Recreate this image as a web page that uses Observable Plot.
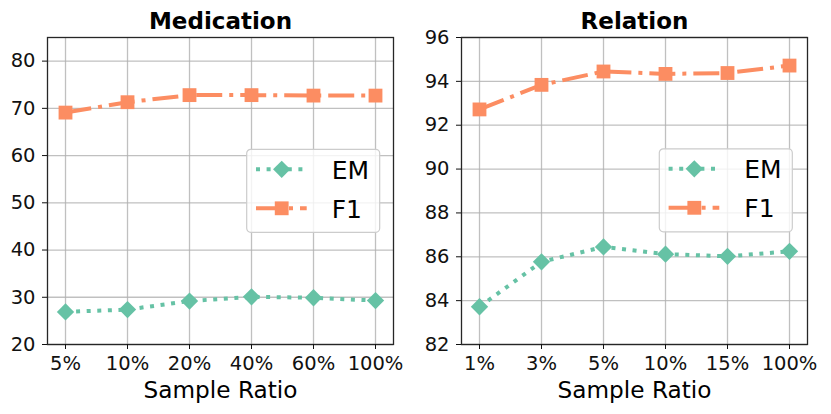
<!DOCTYPE html>
<html><head><meta charset="utf-8">
<script src="https://cdn.jsdelivr.net/npm/d3@7"></script>
<script src="https://cdn.jsdelivr.net/npm/@observablehq/plot@0.6"></script>
<style>
body{margin:0;background:#fff;font-family:"DejaVu Sans",sans-serif;}
#wrap{position:relative;width:831px;height:414px;overflow:hidden;}
.panel{position:absolute;top:0;}
#legend{position:absolute;left:0;top:0;pointer-events:none;}
</style></head><body><div id="wrap"></div>
<script>
// ---- data ----
const medRatios = ["5%","10%","20%","40%","60%","100%"];
const medEM = [26.9, 27.4, 29.2, 30.1, 29.9, 29.3];
const medF1 = [69.1, 71.3, 72.8, 72.8, 72.7, 72.7];
const medYTicks = [20, 30, 40, 50, 60, 70, 80];

const relRatios = ["1%","3%","5%","10%","15%","100%"];
const relEM = [83.72, 85.77, 86.45, 86.12, 86.02, 86.25];
const relF1 = [92.72, 93.84, 94.45, 94.34, 94.38, 94.72];
const relYTicks = [82, 84, 86, 88, 90, 92, 94, 96];

const seriesNames = ["EM", "F1"];
const titles = ["Medication", "Relation"];
const xLabel = "Sample Ratio";

// ---- styles ----
const colors = {EM: "#66c2a5", F1: "#fc8d62"};
const dashes = {EM: "4,6.6", F1: "26,7,4,7"};
const symbols = {EM: "diamond2", F1: "square"};
const radii = {EM: 7.8, F1: 7.8};
const FONT = "DejaVu Sans";

const wrap = document.getElementById("wrap");

function panel({title, ratios, em, f1, yDomain, yTicks, left, width, marginLeft, marginRight}) {
  const rows = ratios.flatMap((r, i) => [
    {ratio: r, metric: "EM", value: em[i]},
    {ratio: r, metric: "F1", value: f1[i]}
  ]);
  const marks = [
    Plot.gridX({stroke: "#b0b0b0", strokeOpacity: 0.8, strokeWidth: 1.3}),
    Plot.gridY(yTicks, {stroke: "#b0b0b0", strokeOpacity: 0.8, strokeWidth: 1.3})
  ];
  for (const s of seriesNames) {
    const d = rows.filter(r => r.metric === s);
    marks.push(Plot.line(d, {x: "ratio", y: "value", stroke: colors[s], strokeWidth: 4,
      strokeDasharray: dashes[s], strokeLinecap: "butt", strokeLinejoin: "round"}));
    marks.push(Plot.dot(d, {x: "ratio", y: "value", symbol: symbols[s], r: radii[s], fill: colors[s], stroke: "none"}));
  }
  marks.push(
    Plot.frame({stroke: "#262626", strokeWidth: 1.3}),
    Plot.axisY(yTicks, {tickSize: 5, tickPadding: 7, fontSize: 19.5, label: null}),
    Plot.axisX({tickSize: 5, tickPadding: 7, fontSize: 19.5, label: null}),
    Plot.text([title], {text: d => d, frameAnchor: "top", lineAnchor: "bottom", dy: -9,
      fontSize: 23, fontWeight: "bold", fill: "#000"}),
    Plot.text([xLabel], {text: d => d, frameAnchor: "bottom", lineAnchor: "bottom", dy: 53.7,
      fontSize: 23.2, fill: "#000"})
  );
  const chart = Plot.plot({
    width, height: 414,
    marginLeft, marginRight, marginTop: 37, marginBottom: 70,
    x: {type: "point", domain: ratios, padding: 0.25},
    y: {domain: yDomain},
    style: {fontFamily: FONT, color: "#111", background: "white", overflow: "visible"},
    marks
  });
  chart.classList.add("panel");
  chart.style.left = left + "px";
  wrap.appendChild(chart);
}

panel({title: titles[0], ratios: medRatios, em: medEM, f1: medF1, yDomain: [20, 85], yTicks: medYTicks,
  left: 0, width: 415, marginLeft: 47, marginRight: 22});
panel({title: titles[1], ratios: relRatios, em: relEM, f1: relF1, yDomain: [82, 96], yTicks: relYTicks,
  left: 415, width: 416, marginLeft: 46, marginRight: 24});

// ---- legends ----
const svg = d3.select(wrap).append("svg").attr("id", "legend").attr("width", 831).attr("height", 414)
  .style("font-family", FONT);
const legendPos = [[246.7, 149.3], [659.3, 148.8]];
for (const [bx, by] of legendPos) {
  const g = svg.append("g").attr("transform", `translate(${bx},${by})`);
  g.append("rect").attr("width", 133).attr("height", 83).attr("rx", 4)
    .attr("fill", "white").attr("fill-opacity", 0.8).attr("stroke", "#cccccc").attr("stroke-width", 1.2);
  seriesNames.forEach((s, i) => {
    const y = 20 + i * 39;
    g.append("line").attr("x1", 9.3).attr("x2", 60).attr("y1", y).attr("y2", y)
      .attr("stroke", colors[s]).attr("stroke-width", 4).attr("stroke-dasharray", dashes[s])
      .attr("stroke-linecap", "butt");
    const sym = s === "EM" ? d3.symbolDiamond2 : d3.symbolSquare;
    g.append("path").attr("d", d3.symbol(sym, Math.PI * radii[s] * radii[s])())
      .attr("transform", `translate(35,${y})`).attr("fill", colors[s]);
    g.append("text").attr("x", 85).attr("y", y + 9.5).attr("font-size", 25).attr("fill", "#000").text(s);
  });
}
</script></body></html>
